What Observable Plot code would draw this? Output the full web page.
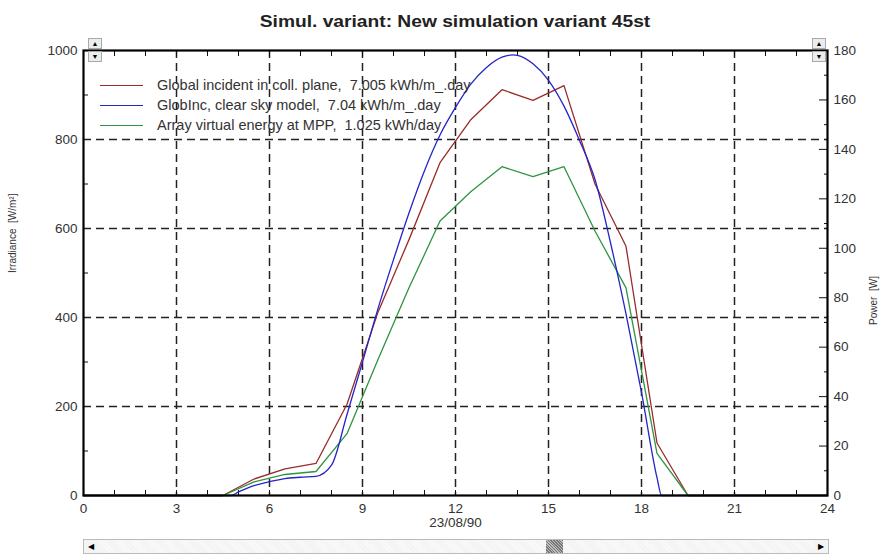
<!DOCTYPE html>
<html><head><meta charset="utf-8">
<script src="https://cdn.jsdelivr.net/npm/d3@7"></script>
<script src="https://cdn.jsdelivr.net/npm/@observablehq/plot@0.6"></script>
<style>
body{margin:0;background:#fff;font-family:Arial,"Liberation Sans",sans-serif;}
#wrap{position:relative;width:886px;height:555px;overflow:hidden;background:#fff}
#title{position:absolute;left:0;top:12px;width:910px;text-align:center;font-weight:bold;font-size:16px;line-height:20px;color:#222;transform:scaleX(1.2);transform-origin:455px 0}
#chart{position:absolute;left:0;top:34px}
#legend{position:absolute;left:100px;top:75px;font-size:14.5px;color:#333;line-height:20px}
#legend .row{display:flex;align-items:center;white-space:pre}
#legend .sw{display:inline-block;width:43px;height:0;border-top:1.3px solid;margin-right:14px}
.btn{position:absolute;width:14px;height:11px;background:#ececec;border:1px solid #aaa;box-sizing:border-box;font-size:7px;line-height:9px;text-align:center;color:#000}
#scroll{position:absolute;left:83px;top:539px;width:746px;height:15px;border:1px solid #bbb;box-sizing:border-box;background:repeating-linear-gradient(45deg,#f2f2f2 0 1px,#fafafa 1px 2px)}
#scroll .arr{position:absolute;top:0;width:14px;height:13px;background:#f4f4f4;font-size:8px;line-height:13px;text-align:center;color:#000}
#thumb{position:absolute;left:462px;top:0;width:17px;height:13px;background:repeating-linear-gradient(45deg,#777 0 1px,#bbb 1px 2px)}
</style></head>
<body>
<div id="wrap">
  <div id="title"></div>
  <div id="chart"></div>
  <div id="legend"></div>
  <div class="btn" style="left:88px;top:38px">&#9650;</div>
  <div class="btn" style="left:88px;top:51px">&#9660;</div>
  <div class="btn" style="left:812px;top:38px">&#9650;</div>
  <div class="btn" style="left:812px;top:51px">&#9660;</div>
  <div id="scroll"><div class="arr" style="left:0">&#9664;</div><div id="thumb"></div><div class="arr" style="right:0">&#9654;</div></div>
</div>
<script>
const titleText = "Simul. variant: New simulation variant 45st";
const dateLabel = "23/08/90";
const leftLabel = "Irradiance\u00a0\u00a0[W/m\u00b2]";
const rightLabel = "Power\u00a0\u00a0[W]";

// Hourly values (centre of each hour)
const hours = [0, 0.5, 1.5, 2.5, 3.5, 4.5, 5.5, 6.5, 7.5, 8.5, 9.5, 10.5, 11.5, 12.5, 13.5, 14.5, 15.5, 16.5, 17.5, 18.5, 19.5, 20.5, 21.5, 22.5, 23.5, 24];
const globalInc = [0, 0, 0, 0, 0, 0, 37, 60, 72, 205, 412, 575, 748, 845, 912, 888, 921, 700, 560, 118, 0, 0, 0, 0, 0, 0];
const arrayPower = [0, 0, 0, 0, 0, 0, 5.5, 8.5, 9.7, 25, 55, 84, 111, 123, 133, 129, 133, 107, 84, 17, 0, 0, 0, 0, 0, 0];

// Clear-sky model (finer sampling)
const clearHours = [0, 4.75, 5.0, 5.5, 6.0, 6.5, 7.0, 7.5, 8.0, 8.5, 9.0, 9.5, 10.0, 10.5, 11.0, 11.5, 12.0, 12.5, 13.0, 13.5, 13.85, 14.0, 14.5, 15.0, 15.5, 16.0, 16.5, 17.0, 17.5, 18.0, 18.5, 18.65, 24];
const clearSky = [0, 0, 8, 22, 31, 38, 41, 43, 68, 182, 300, 420, 530, 635, 730, 810, 872, 925, 962, 985, 990, 989, 970, 933, 875, 798, 710, 568, 408, 232, 40, 0, 0];

const seriesNames = ["Global incident in coll. plane,  7.005 kWh/m_.day", "GlobInc, clear sky model,  7.04 kWh/m_.day", "Array virtual energy at MPP,  1.025 kWh/day"];
const seriesColors = ["#9a2b2b", "#2424c8", "#2f9440"];

const xTicks = [0, 3, 6, 9, 12, 15, 18, 21, 24];
const xGrid = [3, 6, 9, 12, 15, 18, 21];
const xMinor = d3.range(1, 24);
const yTicks = [0, 200, 400, 600, 800, 1000];
const yGrid = [200, 400, 600, 800];
const yMinor = [100, 300, 500, 700, 900];
const powerTicks = [0, 20, 40, 60, 80, 100, 120, 140, 160, 180];
const powerMinor = [10, 30, 50, 70, 90, 110, 130, 150, 170];
const powerMax = 180, irrMax = 1000;
const toY = p => p * irrMax / powerMax;

document.getElementById("title").textContent = titleText;

const redData = hours.map((h, i) => ({h, v: globalInc[i]}));
const greenData = hours.map((h, i) => ({h, v: toY(arrayPower[i])}));
const blueData = clearHours.map((h, i) => ({h, v: clearSky[i]}));

const plotW = 886 - 83 - 59, plotH = 505 - 16 - 44;

const chart = Plot.plot({
  width: 886, height: 505,
  marginLeft: 83, marginRight: 59, marginTop: 16, marginBottom: 44,
  style: {fontFamily: "Arial, 'Liberation Sans', sans-serif", fontSize: "13.5px", color: "#333", background: "transparent"},
  x: {domain: [0, 24]},
  y: {domain: [0, irrMax]},
  marks: [
    Plot.ruleX(xGrid, {x: d => d, stroke: "#222", strokeWidth: 1.5, strokeDasharray: "8,5"}),
    Plot.ruleY(yGrid, {y: d => d, stroke: "#222", strokeWidth: 1.5, strokeDasharray: "8,5"}),
    Plot.ruleX(xMinor, {x: d => d, stroke: "#111", strokeWidth: 1, insetTop: plotH - 5}),
    Plot.ruleX(xMinor, {x: d => d, stroke: "#111", strokeWidth: 1, insetBottom: plotH - 6}),
    Plot.ruleY(yMinor, {y: d => d, stroke: "#111", strokeWidth: 1, insetRight: plotW - 5}),
    Plot.ruleY(powerTicks.map(toY), {y: d => d, stroke: "#111", strokeWidth: 1, insetLeft: plotW - 8}),
    Plot.ruleY(powerMinor.map(toY), {y: d => d, stroke: "#111", strokeWidth: 1, insetLeft: plotW - 3}),
    Plot.line(redData, {x: "h", y: "v", stroke: seriesColors[0], strokeWidth: 1.3}),
    Plot.line(greenData, {x: "h", y: "v", stroke: seriesColors[2], strokeWidth: 1.3}),
    Plot.line(blueData, {x: "h", y: "v", stroke: seriesColors[1], strokeWidth: 1.3, curve: "monotone-x"}),
    Plot.frame({stroke: "#000", strokeWidth: 2.2}),
    Plot.axisX({ticks: xTicks, tickSize: 0, tickPadding: 8, label: null, fontSize: 13.5}),
    Plot.axisY({ticks: yTicks, tickFormat: d => String(d), tickSize: 0, tickPadding: 6, label: null, fontSize: 13.5}),
    Plot.axisY({anchor: "right", ticks: powerTicks.map(toY), tickFormat: d => String(Math.round(d * powerMax / irrMax)), tickSize: 0, tickPadding: 6, label: null, fontSize: 13.5}),
    Plot.text([dateLabel], {frameAnchor: "bottom", dy: 31, fontSize: 13.5, fill: "#333"}),
    Plot.text([leftLabel], {frameAnchor: "left", dx: -71, rotate: -90, fontSize: 10, fill: "#333"}),
    Plot.text([rightLabel], {frameAnchor: "right", dx: 46, dy: 3, rotate: -90, fontSize: 10, fill: "#333"})
  ]
});
document.getElementById("chart").appendChild(chart);

const legend = document.getElementById("legend");
seriesNames.forEach((name, i) => {
  const row = document.createElement("div");
  row.className = "row";
  const sw = document.createElement("span");
  sw.className = "sw";
  sw.style.borderTopColor = seriesColors[i];
  row.appendChild(sw);
  row.appendChild(document.createTextNode(name));
  legend.appendChild(row);
});
</script>
</body></html>
